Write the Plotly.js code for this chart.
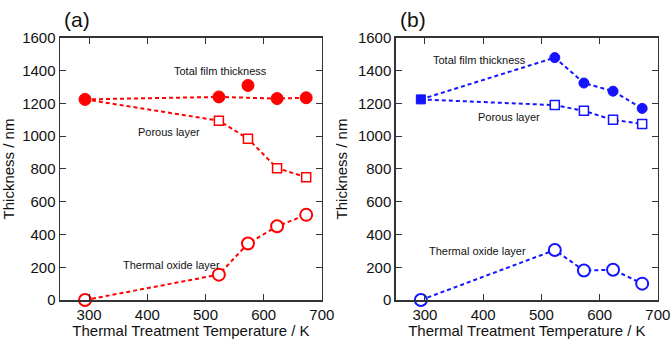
<!DOCTYPE html>
<html><head><meta charset="utf-8">
<script src="https://cdn.plot.ly/plotly-3.0.1.min.js"></script>
<style>html,body{margin:0;padding:0;background:#fff}#c{width:672px;height:339px}</style>
</head><body><div id="c"></div>
<script>
const temps = [293, 523, 573, 623, 673];
// Panel (a)
const aTotal = [1225, 1240, 1310, 1230, 1235];
const aTotalLineTemps = [293, 523, 623, 673];
const aTotalLine = [1225, 1240, 1230, 1235];
const aPorous = [1225, 1095, 985, 805, 750];
const aOxide = [0, 155, 345, 450, 520];
// Panel (b)
const bTotal = [1225, 1480, 1325, 1275, 1170];
const bPorous = [1225, 1190, 1155, 1100, 1075];
const bOxide = [0, 305, 180, 185, 100];
const labels = ["Total film thickness", "Porous layer", "Thermal oxide layer"];
const panelLabels = ["(a)", "(b)"];
const xTicks = [300, 400, 500, 600, 700];
const yTicks = [0, 200, 400, 600, 800, 1000, 1200, 1400, 1600];

const RED = '#ff0000', BLUE = '#1414ff';
const dash = '4px,3px';
function ln(x, y, color, xa, ya) {
  return {x, y, xaxis: xa, yaxis: ya, mode: 'lines', line: {color, width: 2, dash}, hoverinfo: 'skip', showlegend: false};
}
function mk(x, y, color, symbol, size, lw, xa, ya, fill) {
  return {x, y, xaxis: xa, yaxis: ya, mode: 'markers', showlegend: false, cliponaxis: false,
    marker: {color: fill || color, symbol, size, line: {color, width: lw}}};
}
const data = [
  ln(temps, aPorous, RED, 'x', 'y'),
  ln(temps, aOxide, RED, 'x', 'y'),
  ln(aTotalLineTemps, aTotalLine, RED, 'x', 'y'),
  mk(temps.slice(1), aPorous.slice(1), RED, 'square', 9, 1.5, 'x', 'y', '#fff'),
  mk(temps, aOxide, RED, 'circle', 12, 2, 'x', 'y', '#fff'),
  mk(temps, aTotal, RED, 'circle', 12, 1, 'x', 'y'),
  ln(temps, bPorous, BLUE, 'x2', 'y2'),
  ln(temps, bOxide, BLUE, 'x2', 'y2'),
  ln(temps, bTotal, BLUE, 'x2', 'y2'),
  mk(temps.slice(1), bPorous.slice(1), BLUE, 'square', 9, 1.5, 'x2', 'y2', '#fff'),
  mk(temps, bOxide, BLUE, 'circle', 12, 2, 'x2', 'y2', '#fff'),
  mk(temps.slice(1), bTotal.slice(1), BLUE, 'circle', 10, 1, 'x2', 'y2'),
  mk(temps.slice(0,1), bTotal.slice(0,1), BLUE, 'square', 9, 1, 'x2', 'y2')
];
const font = {family: 'Liberation Sans, Arial, sans-serif', color: '#111'};
function xax(domain, anchor) {
  return {domain, anchor, range: [250, 700], tickvals: xTicks, ticks: 'inside', ticklen: 6, tickcolor: '#333',
    showline: true, linecolor: '#333', linewidth: 1.5, mirror: 'ticks', showgrid: false, zeroline: false,
    tickfont: {size: 15, family: font.family, color: '#111'},
    title: {text: 'Thermal Treatment Temperature / K', font: {size: 15, family: font.family, color: '#111'}, standoff: 4}};
}
function yax(anchor) {
  return {domain: [0.115, 0.888], anchor, range: [0, 1600], tickvals: yTicks, ticks: 'inside', ticklen: 6, tickcolor: '#333',
    showline: true, linecolor: '#333', linewidth: 1.5, mirror: 'ticks', showgrid: false, zeroline: false,
    tickfont: {size: 15, family: font.family, color: '#111'},
    title: {text: 'Thickness / nm', font: {size: 15, family: font.family, color: '#111'}, standoff: 6}};
}
function ann(text, x, y, xref, yref, size) {
  return {text, x, y, xref, yref, showarrow: false, font: {size: size || 11, family: font.family, color: '#111'}};
}
const layout = {
  width: 672, height: 339, margin: {l: 0, r: 0, t: 0, b: 0},
  paper_bgcolor: '#fff', plot_bgcolor: '#fff', font,
  xaxis: xax([0.0893, 0.479], 'y'), yaxis: yax('x'),
  xaxis2: xax([0.589, 0.979], 'y2'), yaxis2: yax('x2'),
  annotations: [
    ann(labels[0], 526, 1398, 'x', 'y'),
    ann(labels[1], 437, 1026, 'x', 'y'),
    ann(labels[2], 442, 214, 'x', 'y'),
    ann(labels[0], 394, 1466, 'x2', 'y2'),
    ann(labels[1], 444, 1118, 'x2', 'y2'),
    ann(labels[2], 391, 299, 'x2', 'y2'),
    {text: panelLabels[0], x: 62/672, y: 1-20/339, xref: 'paper', yref: 'paper', xanchor: 'left', yanchor: 'middle', showarrow: false, font: {size: 21, family: font.family, color: '#111'}},
    {text: panelLabels[1], x: 398/672, y: 1-20/339, xref: 'paper', yref: 'paper', xanchor: 'left', yanchor: 'middle', showarrow: false, font: {size: 21, family: font.family, color: '#111'}}
  ]
};
Plotly.newPlot('c', data, layout, {displayModeBar: false, staticPlot: true});
</script></body></html>
